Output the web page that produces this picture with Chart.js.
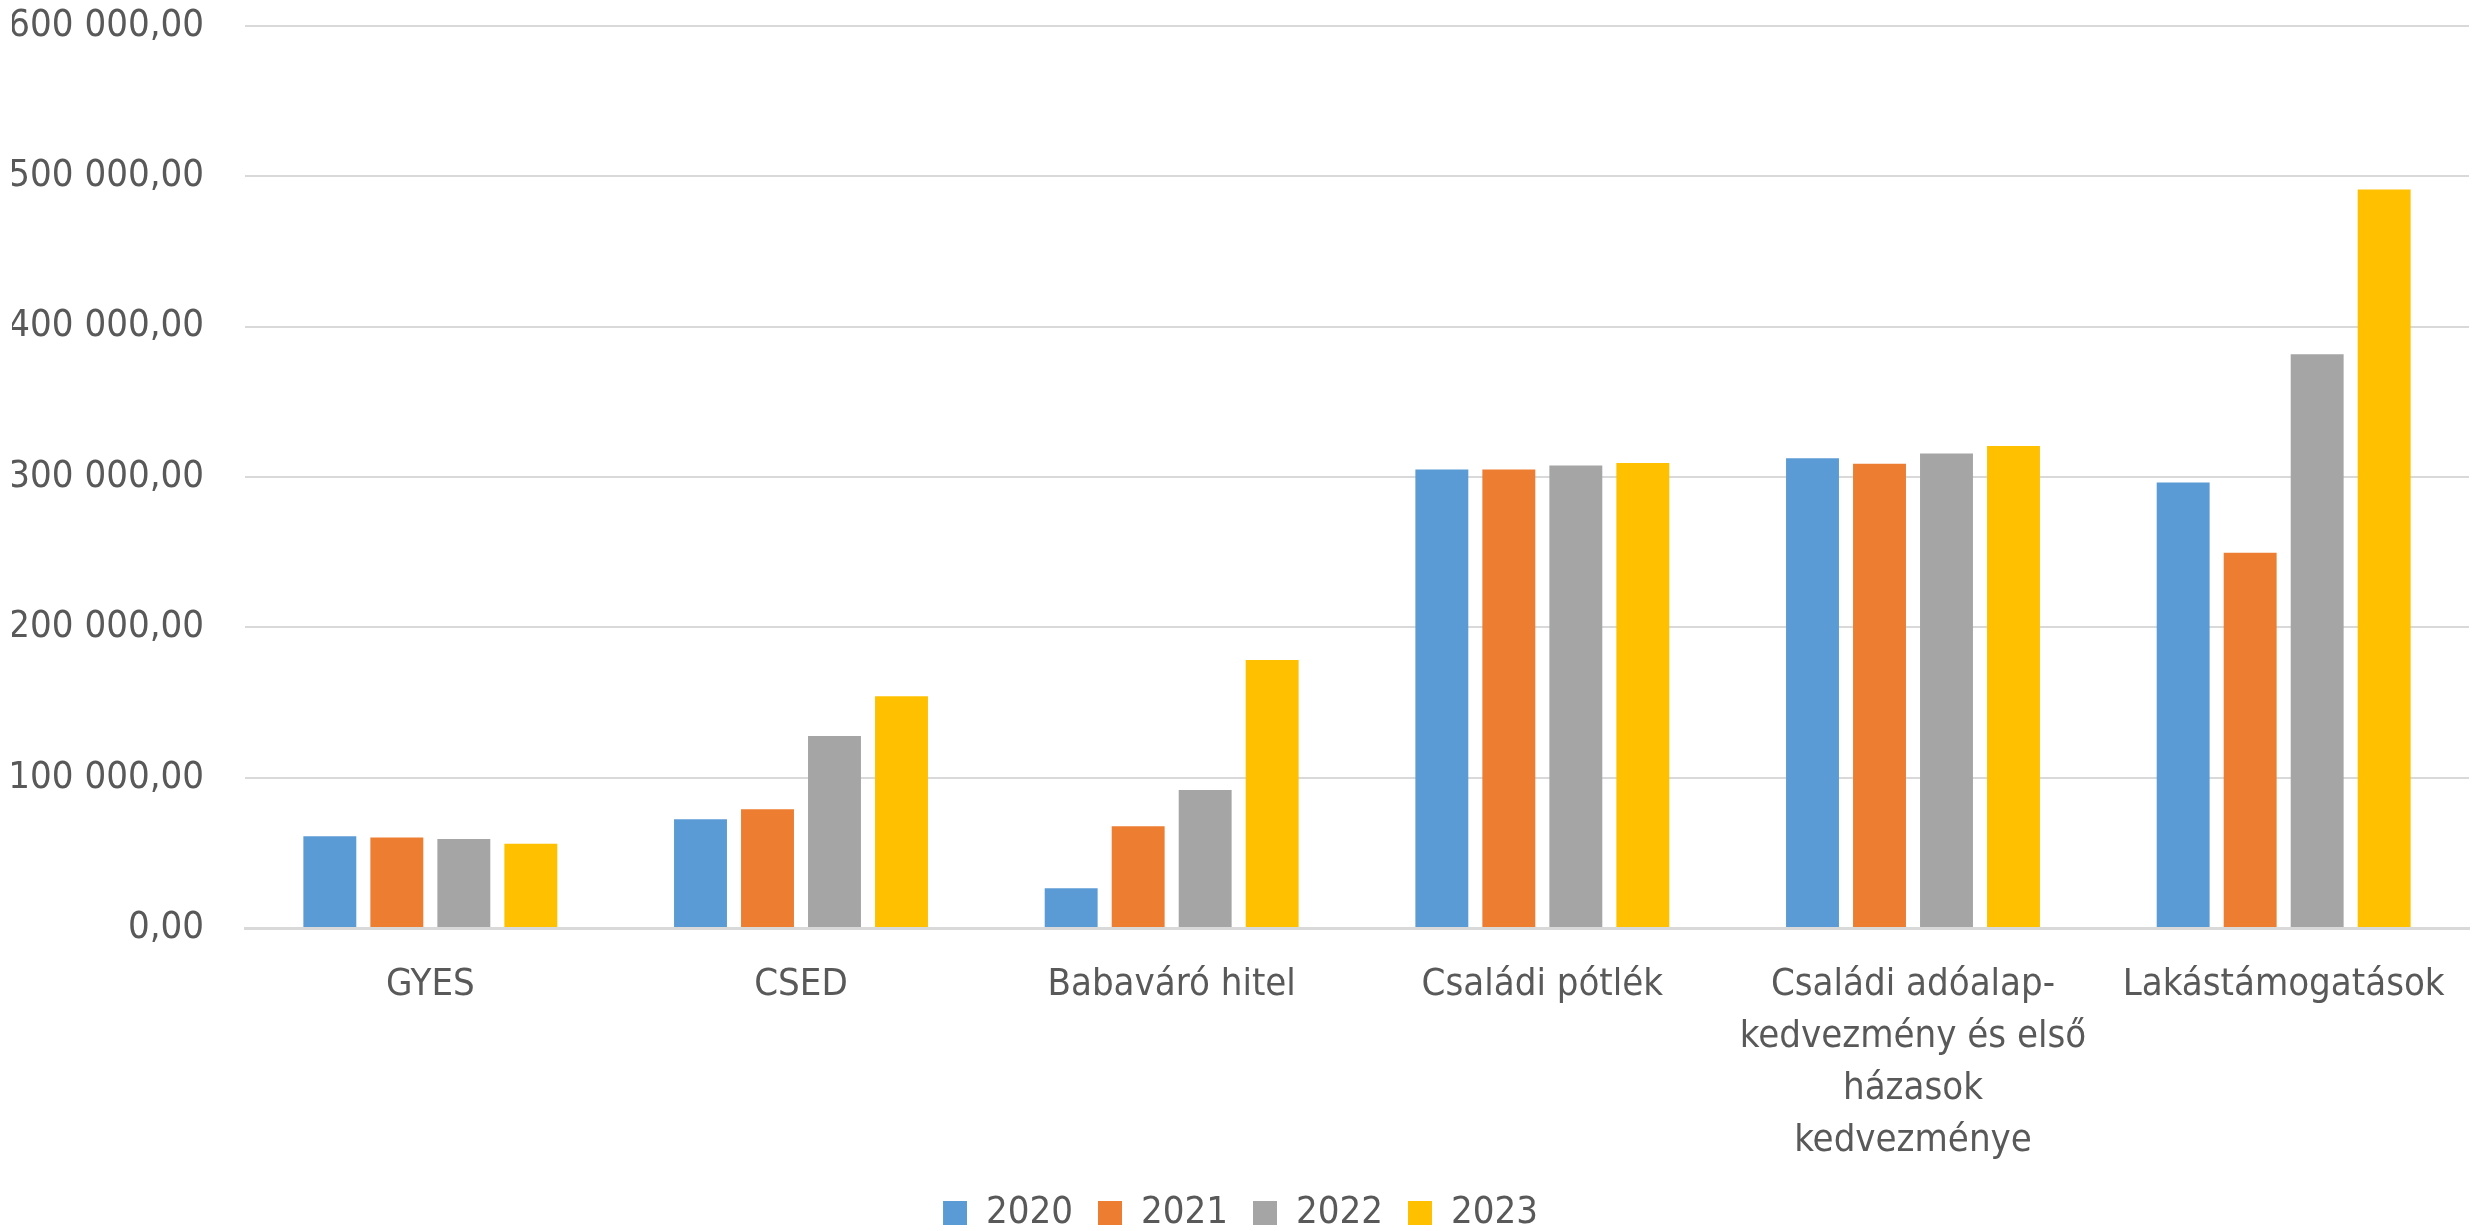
<!DOCTYPE html>
<html>
<head>
<meta charset="utf-8">
<script src="https://cdn.jsdelivr.net/npm/chart.js@4.4.1/dist/chart.umd.min.js"></script>
<style>
  html, body { margin: 0; padding: 0; background: #ffffff; overflow: hidden; }
  #wrap { width: 2478px; height: 1231px; overflow: hidden; }
  /* chart.js keeps ~64px above the plot; pull the canvas up so the top gridline sits where it should */
  #chart { display: block; margin-top: -38px; }
</style>
</head>
<body>
<div id="wrap"><canvas id="chart" width="2478" height="1269"></canvas></div>
<script>
// categories (multi-line where the original wraps)
const categories = [
  'GYES',
  'CSED',
  'Babaváró hitel',
  'Családi pótlék',
  ['Családi adóalap-', 'kedvezmény és első', 'házasok', 'kedvezménye'],
  'Lakástámogatások'
]
const years = ['2020', '2021', '2022', '2023']

const values2020 = [61000, 72300, 26500, 305000, 312400, 296300]
const values2021 = [60200, 79000, 67700, 305000, 308700, 249500]
const values2022 = [59200, 127700, 91800, 307600, 315500, 381600]
const values2023 = [56000, 154200, 178300, 309200, 320500, 491100]

const yTickLabels = ['0,00', '100 000,00', '200 000,00', '300 000,00', '400 000,00', '500 000,00', '600 000,00']

const colors = ['#5B9BD5', '#ED7D31', '#A5A5A5', '#FFC000']
const fontFamily = '"Liberation Sans Narrow", "DejaVu Sans Condensed", "Open Sans", sans-serif'
const textColor = '#595959'

var series = [values2020, values2021, values2022, values2023]
var ctx = document.getElementById('chart').getContext('2d')
var chart = new Chart(ctx, {
  type: 'bar',
  data: {
    labels: categories,
    datasets: series.map((vals, i) => ({
      label: years[i],
      data: vals,
      backgroundColor: colors[i],
      borderWidth: 0,
      categoryPercentage: 0.723,
      barPercentage: 0.79
    }))
  },
  options: {
    responsive: false,
    animation: false,
    layout: {
      padding: { top: 8, bottom: -11, left: 12, right: 9 }
    },
    plugins: {
      tooltip: { enabled: false },
      legend: {
        display: true,
        position: 'bottom',
        labels: {
          boxWidth: 24,
          boxHeight: 24,
          padding: 25,
          color: textColor,
          font: { family: fontFamily, size: 38 }
        }
      }
    },
    scales: {
      x: {
        grid: { display: false },
        border: { display: true, color: '#D9D9D9', width: 3 },
        ticks: {
          color: textColor,
          maxRotation: 0,
          autoSkip: false,
          padding: 23,
          font: { family: fontFamily, size: 38, lineHeight: 1.37 }
        },
        afterFit: (scale) => { scale.height = 241 }
      },
      y: {
        min: 0,
        max: 600000,
        grid: { color: '#D9D9D9', lineWidth: 2, drawTicks: false },
        border: { display: false },
        ticks: {
          stepSize: 100000,
          padding: 41,
          color: textColor,
          font: { family: fontFamily, size: 38 },
          callback: (value) => yTickLabels[Math.round(value / 100000)]
        },
        afterFit: (scale) => { scale.width = 233 }
      }
    }
  }
})
</script>
</body>
</html>
